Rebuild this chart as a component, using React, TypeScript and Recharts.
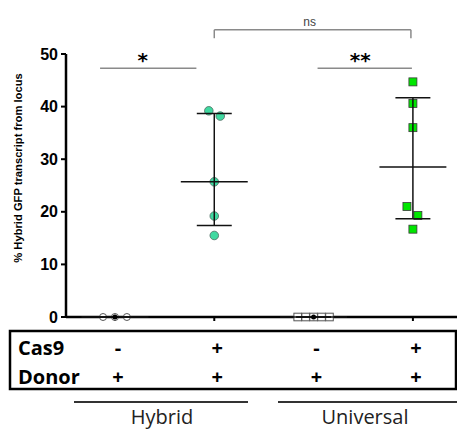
import React from 'react';
import { ScatterChart, Scatter, XAxis, YAxis, ReferenceLine, ReferenceDot } from 'recharts';

// ---- data ----
const categories = ['Hybrid Cas9-', 'Hybrid Cas9+', 'Universal Cas9-', 'Universal Cas9+'];
const cas9Row = ['-', '+', '-', '+'];
const donorRow = ['+', '+', '+', '+'];
const groupLabels = ['Hybrid', 'Universal'];
const yTicks = [0, 10, 20, 30, 40, 50];

const hybridNegValues = [0, 0, 0];
const hybridNegJitter = [-0.12, 0, 0.12];
const hybridPosValues = [39.2, 38.2, 25.7, 19.2, 15.5];
const hybridPosJitter = [-0.055, 0.06, 0, 0, 0];
const universalNegValues = [0, 0, 0, 0, 0];
const universalNegJitter = [-0.16, -0.08, 0, 0.08, 0.16];
const universalPosValues = [44.7, 40.6, 36.0, 21.0, 19.3, 16.7];
const universalPosJitter = [0, 0, 0, -0.06, 0.05, 0];

const medians = [0, 25.7, 0, 28.5];
const q1s = [0, 17.4, 0, 18.7];
const q3s = [0, 38.7, 0, 41.7];

const sigLabels = ['*', '**'];
const sigFrom = [-0.15, 2.04];
const sigTo = [0.82, 2.99];
const sigY = 47.3;
const sigTextX = [0.28, 2.47];
const nsLabel = 'ns';
const nsFrom = 1.0;
const nsTo = 2.98;
const nsY = 54.6;
const nsTickEnd = 53.0;
const nsTextX = 1.96;

const build = (group: number, values: number[], jitter: number[]) =>
  values.map((v, i) => ({ x: group + jitter[i], y: v, category: categories[group] }));

const TableTick = (props: any) => {
  const { x, y, payload } = props;
  const i = payload.value as number;
  const common = { textAnchor: 'middle' as const, fontFamily: 'Open Sans', fontWeight: 700, fontSize: 20, fill: '#000' };
  return (
    <g>
      <text x={x + 3} y={y + 32} {...common}>{cas9Row[i]}</text>
      <text x={x + 3} y={y + 61} {...common}>{donorRow[i]}</text>
    </g>
  );
};

const OpenCircle = (p: any) => <circle cx={p.cx} cy={p.cy} r={3.5} fill="#fff" stroke="#555" strokeWidth={1} />;
const TealCircle = (p: any) => <circle cx={p.cx} cy={p.cy} r={4.3} fill="#3fd9a0" stroke="#4a6a5e" strokeWidth={0.8} />;
const OpenSquare = (p: any) => <rect x={p.cx - 3.8} y={p.cy - 3.8} width={7.6} height={7.6} fill="#fff" stroke="#555" strokeWidth={1} />;
const GreenSquare = (p: any) => <rect x={p.cx - 4} y={p.cy - 4} width={8} height={8} fill="#00e600" stroke="#3a3a3a" strokeWidth={0.8} />;

export default function App() {
  const lineProps = { stroke: '#111', strokeWidth: 1.5, ifOverflow: 'visible' as const, zIndex: 700 };
  const grayProps = { stroke: '#8a8a8a', strokeWidth: 1.5, ifOverflow: 'visible' as const, zIndex: 700 };
  return (
    <div style={{ position: 'relative', width: 457, height: 434 }}>
      <style>{'body{margin:0}'}</style>
      <ScatterChart width={457} height={434} margin={{ top: 54, right: 0, bottom: 0, left: 0 }}>
        <XAxis
          type="number"
          dataKey="x"
          domain={[-0.493, 3.444]}
          ticks={[0, 1, 2, 3]}
          interval={0}
          allowDataOverflow
          height={117}
          axisLine={{ stroke: '#000', strokeWidth: 2.5 }}
          tickLine={{ stroke: '#000', strokeWidth: 2 }}
          tickSize={4}
          tick={<TableTick />}
        />
        <YAxis
          type="number"
          dataKey="y"
          domain={[0, 50]}
          ticks={yTicks}
          interval={0}
          width={66}
          axisLine={{ stroke: '#000', strokeWidth: 2.5 }}
          tickLine={{ stroke: '#000', strokeWidth: 2 }}
          tickSize={5}
          tickMargin={3}
          tick={{ fill: '#000', fontSize: 16, fontWeight: 700, fontFamily: 'Liberation Sans' }}
        />
        <Scatter data={build(0, hybridNegValues, hybridNegJitter)} shape={OpenCircle} isAnimationActive={false} />
        <Scatter data={build(1, hybridPosValues, hybridPosJitter)} shape={TealCircle} isAnimationActive={false} />
        <Scatter data={build(2, universalNegValues, universalNegJitter)} shape={OpenSquare} isAnimationActive={false} />
        <Scatter data={build(3, universalPosValues, universalPosJitter)} shape={GreenSquare} isAnimationActive={false} />

        {medians.map((m, i) => (
          <ReferenceLine key={'m' + i} segment={[{ x: i - 0.337, y: m }, { x: i + 0.337, y: m }]} {...lineProps} />
        ))}
        {medians.map((m, i) => (
          <ReferenceLine key={'v' + i} segment={[{ x: i, y: q1s[i] }, { x: i, y: q3s[i] }]} {...lineProps} />
        ))}
        {medians.map((m, i) => (
          <ReferenceLine key={'c1' + i} segment={[{ x: i - 0.176, y: q1s[i] }, { x: i + 0.176, y: q1s[i] }]} {...lineProps} />
        ))}
        {medians.map((m, i) => (
          <ReferenceLine key={'c3' + i} segment={[{ x: i - 0.176, y: q3s[i] }, { x: i + 0.176, y: q3s[i] }]} {...lineProps} />
        ))}
        {medians.map((m, i) =>
          q1s[i] === q3s[i] ? (
            <ReferenceDot key={'d' + i} x={i} y={m} r={2.5} fill="#000" stroke="none" ifOverflow="visible" zIndex={700} />
          ) : null
        )}

        {sigLabels.map((s, i) => (
          <ReferenceLine key={'s' + i} segment={[{ x: sigFrom[i], y: sigY }, { x: sigTo[i], y: sigY }]} {...grayProps} />
        ))}
        {sigLabels.map((s, i) => (
          <ReferenceDot
            key={'st' + i}
            x={sigTextX[i]}
            y={sigY}
            r={0}
            ifOverflow="visible"
            zIndex={700}
            shape={(p: any) => (
              <text x={p.cx} y={p.cy - 1} textAnchor="middle" fontFamily="DejaVu Sans" fontWeight={700} fontSize={20} fill="#000">{s}</text>
            )}
          />
        ))}
        <ReferenceLine segment={[{ x: nsFrom, y: nsY }, { x: nsTo, y: nsY }]} {...grayProps} />
        <ReferenceLine segment={[{ x: nsFrom, y: nsY }, { x: nsFrom, y: nsTickEnd }]} {...grayProps} />
        <ReferenceLine segment={[{ x: nsTo, y: nsY }, { x: nsTo, y: nsTickEnd }]} {...grayProps} />
        <ReferenceDot
          x={nsTextX}
          y={nsY}
          r={0}
          ifOverflow="visible"
          zIndex={700}
          shape={(p: any) => (
            <text x={p.cx} y={p.cy - 4} textAnchor="middle" fontFamily="Liberation Sans" fontSize={12} fill="#444">{nsLabel}</text>
          )}
        />
      </ScatterChart>
      <svg width={457} height={434} style={{ position: 'absolute', left: 0, top: 0, pointerEvents: 'none' }}>
        <text
          transform="translate(18,168) rotate(-90)"
          textAnchor="middle"
          dominantBaseline="central"
          fontFamily="Liberation Sans"
          fontWeight={700}
          fontSize={11.2}
          fill="#000"
        >
          % Hybrid GFP transcript from locus
        </text>
        <rect x={10} y={331} width={446} height={58} fill="none" stroke="#000" strokeWidth={2.5} />
        <text x={18} y={355} fontFamily="Open Sans" fontWeight={700} fontSize={20} fill="#000">Cas9</text>
        <text x={18} y={384} fontFamily="Open Sans" fontWeight={700} fontSize={20} fill="#000">Donor</text>
        <line x1={74} y1={402} x2={248} y2={402} stroke="#333" strokeWidth={2} />
        <line x1={278} y1={402} x2={457} y2={402} stroke="#333" strokeWidth={2} />
        <text x={162} y={424} textAnchor="middle" fontFamily="Open Sans" fontSize={20} fill="#222">{groupLabels[0]}</text>
        <text x={365} y={424} textAnchor="middle" fontFamily="Open Sans" fontSize={20} fill="#222">{groupLabels[1]}</text>
      </svg>
    </div>
  );
}
